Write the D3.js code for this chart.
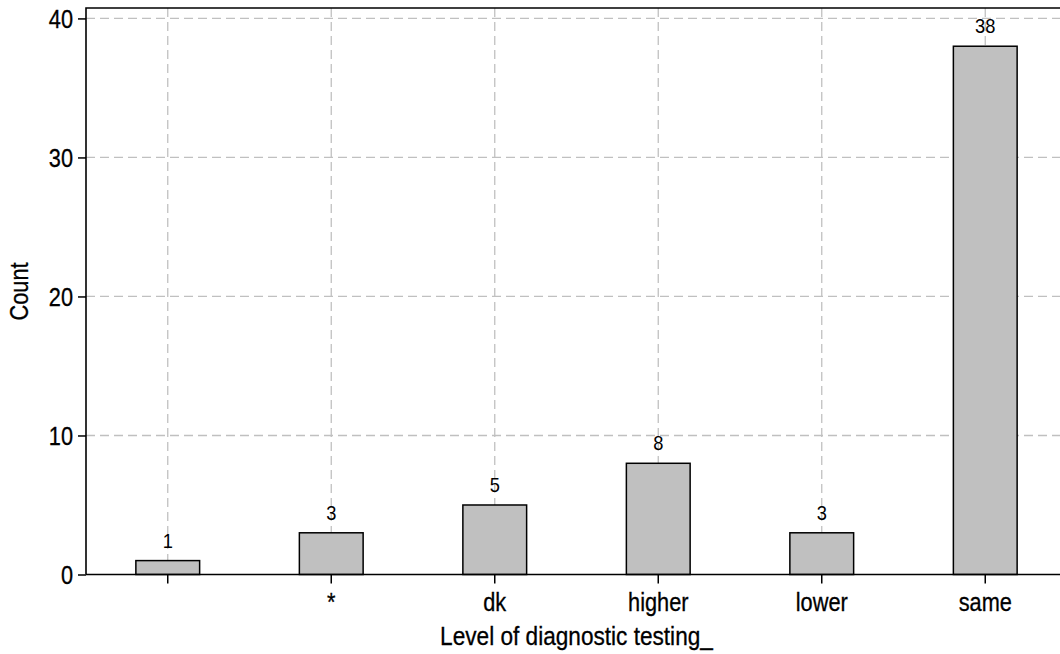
<!DOCTYPE html>
<html>
<head>
<meta charset="utf-8">
<script src="https://cdn.jsdelivr.net/npm/d3@7"></script>
<style>
  html, body { margin: 0; padding: 0; background: #fff; }
  svg { display: block; }
  text { font-family: "Liberation Sans Narrow", "Arial Narrow", "Liberation Sans", Arial, sans-serif; fill: #000; stroke: #000; stroke-width: 0.3px; }
  text.barlabel { stroke: none; }
</style>
</head>
<body>
<script>
// Data
const categories = ["", "*", "dk", "higher", "lower", "same"];
const counts = [1, 3, 5, 8, 3, 38];
const yTicks = [0, 10, 20, 30, 40];
const xTitle = "Level of diagnostic testing_";
const yTitle = "Count";

const W = 1060, H = 654;
const mLeft = 86, mRight = 1067, mTop = 8, mBottom = 574.5;
const SX = 0.87; // horizontal condensing to mimic a narrow face

const svg = d3.select("body").append("svg").attr("width", W).attr("height", H);

const x = d3.scaleBand().domain(categories).range([mLeft, mRight]).paddingInner(0.61).paddingOuter(0.305);
const y = d3.scaleLinear().domain([0, 40.75]).range([mBottom, mTop]);

function squeeze(sel) {
  sel.each(function () {
    const t = d3.select(this);
    const xv = +t.attr("x") || 0;
    t.attr("x", xv / SX).attr("transform", `scale(${SX},1)`);
  });
}

// gridlines
const grid = svg.append("g").attr("stroke", "#c0c0c0").attr("stroke-width", 1.3).attr("stroke-dasharray", "9,5");
grid.selectAll("line.h").data(yTicks.filter(d => d > 0)).enter().append("line")
  .attr("x1", mLeft).attr("x2", mRight).attr("y1", d => y(d)).attr("y2", d => y(d));
grid.selectAll("line.v").data(categories).enter().append("line")
  .attr("x1", d => x(d) + x.bandwidth() / 2).attr("x2", d => x(d) + x.bandwidth() / 2)
  .attr("y1", mTop).attr("y2", mBottom);

// bars
svg.append("g").selectAll("rect").data(categories).enter().append("rect")
  .attr("x", d => x(d)).attr("width", x.bandwidth())
  .attr("y", (d, i) => y(counts[i])).attr("height", (d, i) => mBottom - y(counts[i]))
  .attr("fill", "#c0c0c0").attr("stroke", "#000").attr("stroke-width", 1.5);

// bar labels
svg.append("g").selectAll("text").data(categories).enter().append("text")
  .attr("class", "barlabel")
  .attr("x", d => x(d) + x.bandwidth() / 2).attr("y", (d, i) => y(counts[i]) - 13)
  .attr("text-anchor", "middle").attr("font-size", 21).text((d, i) => counts[i])
  .call(squeeze);

// frame (left and top)
svg.append("path").attr("d", `M${mLeft},${mBottom}V${mTop}H${mRight}`).attr("fill", "none").attr("stroke", "#000").attr("stroke-width", 1.6);

// y axis
const yAxis = svg.append("g").attr("transform", `translate(${mLeft},0)`)
  .call(d3.axisLeft(y).tickValues(yTicks).tickSize(8).tickPadding(5).tickFormat(d3.format("d")));
yAxis.select(".domain").remove();
yAxis.selectAll(".tick line").attr("stroke", "#000").attr("stroke-width", 1.5);
yAxis.selectAll(".tick text").attr("font-size", 25).attr("font-family", null).attr("dy", "0.36em")
  .attr("x", -13).call(squeeze);

// x axis
const xAxis = svg.append("g").attr("transform", `translate(0,${mBottom})`)
  .call(d3.axisBottom(x).tickSize(9).tickPadding(4));
xAxis.select(".domain").attr("stroke", "#000").attr("stroke-width", 1.6).attr("d", `M${mLeft},0H${mRight}`);
xAxis.selectAll(".tick line").attr("stroke", "#000").attr("stroke-width", 1.5);
xAxis.selectAll(".tick text").attr("font-size", 25).attr("font-family", null)
  .attr("y", 37).attr("dy", 0).call(squeeze);

// titles
svg.append("text").attr("x", (mLeft + mRight) / 2).attr("y", 645).attr("text-anchor", "middle")
  .attr("font-size", 26).text(xTitle).call(squeeze);
svg.append("text").attr("transform", `translate(28,291.5) rotate(-90) scale(${SX},1)`).attr("text-anchor", "middle")
  .attr("font-size", 25).text(yTitle);
</script>
</body>
</html>
